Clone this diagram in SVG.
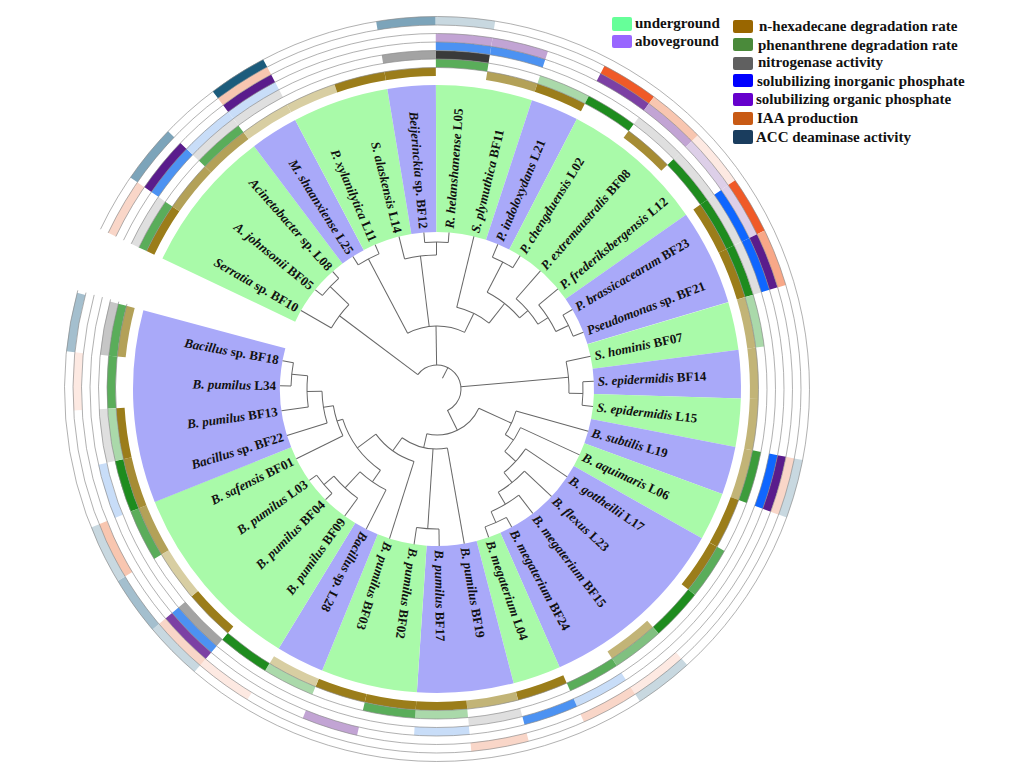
<svg xmlns="http://www.w3.org/2000/svg" width="1024" height="765" viewBox="0 0 1024 765">
<style>
text{font-family:"Liberation Serif","Times New Roman",serif;font-weight:bold;fill:#111}
.lab{font-size:13px}
.it{font-style:italic}
.leg{font-size:15px}
.tree line,.tree circle{stroke:#666;stroke-width:1;fill:none}
.band{fill:none;stroke-width:147}
.bg{stroke:#A9FAA9}.bp{stroke:#A9A9F9}
.c{fill:none;stroke-width:8.6}
.x1{stroke-dasharray:50.94 3000}.x2{stroke-dasharray:52.31 3000}.x3{stroke-dasharray:53.67 3000}.x4{stroke-dasharray:55.04 3000}.x5{stroke-dasharray:56.40 3000}.x6{stroke-dasharray:57.77 3000}.x7{stroke-dasharray:59.13 3000}
.b3{stroke:#9B7D1A}.b25{stroke:#A68C34}.b2{stroke:#B3A158}.b15{stroke:#C2B477}.b1{stroke:#D8CEA2}
.g3{stroke:#1E8C1E}.g25{stroke:#3C9C3C}.g2{stroke:#5AAD5A}.g15{stroke:#80C080}.g1{stroke:#AAD9AA}
.n3{stroke:#3A3A3A}.n2{stroke:#A3A3A3}.n15{stroke:#C6C6C6}.n1{stroke:#DFDFDF}
.i3{stroke:#0F66FF}.i2{stroke:#4C92F2}.i1{stroke:#C8DDF8}
.o3{stroke:#5A1C8C}.o2{stroke:#7C40A4}.o1{stroke:#C2A4D4}.o05{stroke:#DDCFE8}
.a3{stroke:#F05A28}.a2{stroke:#F8A888}.a15{stroke:#F8C6B0}.a1{stroke:#F9D6C8}.a05{stroke:#FDE9E2}
.d3{stroke:#1C5C7C}.d2{stroke:#7CA4BA}.d15{stroke:#A4BFCE}.d1{stroke:#C8D8E0}
.sep circle{fill:none;stroke:#8A8A8A;stroke-width:0.6}
</style>
<rect width="1024" height="765" fill="#fff"/>
<g transform="translate(437,389)">
<g id="bands">
<circle r="230.5" class="band bg" stroke-dasharray="111.03 3000" transform="rotate(205.4)"/>
<circle r="230.5" class="band bp" stroke-dasharray="37.01 3000" transform="rotate(233)"/>
<circle r="230.5" class="band bg" stroke-dasharray="74.02 3000" transform="rotate(242.2)"/>
<circle r="230.5" class="band bp" stroke-dasharray="37.01 3000" transform="rotate(260.6)"/>
<circle r="230.5" class="band bg" stroke-dasharray="74.02 3000" transform="rotate(269.8)"/>
<circle r="230.5" class="band bp" stroke-dasharray="37.01 3000" transform="rotate(288.2)"/>
<circle r="230.5" class="band bg" stroke-dasharray="111.03 3000" transform="rotate(297.4)"/>
<circle r="230.5" class="band bp" stroke-dasharray="74.02 3000" transform="rotate(325)"/>
<circle r="230.5" class="band bg" stroke-dasharray="37.01 3000" transform="rotate(343.4)"/>
<circle r="230.5" class="band bp" stroke-dasharray="37.01 3000" transform="rotate(352.6)"/>
<circle r="230.5" class="band bg" stroke-dasharray="37.01 3000" transform="rotate(361.8)"/>
<circle r="230.5" class="band bp" stroke-dasharray="37.01 3000" transform="rotate(371)"/>
<circle r="230.5" class="band bg" stroke-dasharray="37.01 3000" transform="rotate(380.2)"/>
<circle r="230.5" class="band bp" stroke-dasharray="148.04 3000" transform="rotate(389.4)"/>
<circle r="230.5" class="band bg" stroke-dasharray="37.01 3000" transform="rotate(426.2)"/>
<circle r="230.5" class="band bp" stroke-dasharray="74.02 3000" transform="rotate(435.4)"/>
<circle r="230.5" class="band bg" stroke-dasharray="74.02 3000" transform="rotate(453.8)"/>
<circle r="230.5" class="band bp" stroke-dasharray="37.01 3000" transform="rotate(472.2)"/>
<circle r="230.5" class="band bg" stroke-dasharray="148.04 3000" transform="rotate(481.4)"/>
<circle r="230.5" class="band bp" stroke-dasharray="148.04 3000" transform="rotate(518.2)"/>
</g>
<g id="ring1">
<circle r="317.25" class="c x1 b3" transform="rotate(205.4)"/>
<circle r="317.25" class="c x1 b2" transform="rotate(214.6)"/>
<circle r="317.25" class="c x1 b2" transform="rotate(223.8)"/>
<circle r="317.25" class="c x1 b1" transform="rotate(233)"/>
<circle r="317.25" class="c x1 b1" transform="rotate(242.2)"/>
<circle r="317.25" class="c x1 b3" transform="rotate(251.4)"/>
<circle r="317.25" class="c x1 b3" transform="rotate(260.6)"/>
<circle r="317.25" class="c x1 b2" transform="rotate(279)"/>
<circle r="317.25" class="c x1 b3" transform="rotate(288.2)"/>
<circle r="317.25" class="c x1 b25" transform="rotate(306.6)"/>
<circle r="317.25" class="c x1 b3" transform="rotate(325)"/>
<circle r="317.25" class="c x1 b3" transform="rotate(334.2)"/>
<circle r="317.25" class="c x1 b15" transform="rotate(343.4)"/>
<circle r="317.25" class="c x1 b15" transform="rotate(352.6)"/>
<circle r="317.25" class="c x1 b15" transform="rotate(361.8)"/>
<circle r="317.25" class="c x1 b15" transform="rotate(371)"/>
<circle r="317.25" class="c x1 b3" transform="rotate(380.2)"/>
<circle r="317.25" class="c x1 b3" transform="rotate(389.4)"/>
<circle r="317.25" class="c x1 b15" transform="rotate(407.8)"/>
<circle r="317.25" class="c x1 b3" transform="rotate(426.2)"/>
<circle r="317.25" class="c x1 b15" transform="rotate(435.4)"/>
<circle r="317.25" class="c x1 b3" transform="rotate(444.6)"/>
<circle r="317.25" class="c x1 b3" transform="rotate(453.8)"/>
<circle r="317.25" class="c x1 b3" transform="rotate(463)"/>
<circle r="317.25" class="c x1 b1" transform="rotate(472.2)"/>
<circle r="317.25" class="c x1 b3" transform="rotate(490.6)"/>
<circle r="317.25" class="c x1 b1" transform="rotate(499.8)"/>
<circle r="317.25" class="c x1 b2" transform="rotate(509)"/>
<circle r="317.25" class="c x1 b25" transform="rotate(518.2)"/>
<circle r="317.25" class="c x1 b3" transform="rotate(527.4)"/>
<circle r="317.25" class="c x1 b2" transform="rotate(545.8)"/>
</g>
<g id="ring2">
<circle r="325.75" class="c x2 g2" transform="rotate(205.4)"/>
<circle r="325.75" class="c x2 g2" transform="rotate(223.8)"/>
<circle r="325.75" class="c x2 g2" transform="rotate(269.8)"/>
<circle r="325.75" class="c x2 g1" transform="rotate(288.2)"/>
<circle r="325.75" class="c x2 g3" transform="rotate(297.4)"/>
<circle r="325.75" class="c x2 g3" transform="rotate(315.8)"/>
<circle r="325.75" class="c x2 g3" transform="rotate(325)"/>
<circle r="325.75" class="c x2 g3" transform="rotate(334.2)"/>
<circle r="325.75" class="c x2 g1" transform="rotate(343.4)"/>
<circle r="325.75" class="c x2 g25" transform="rotate(371)"/>
<circle r="325.75" class="c x2 g2" transform="rotate(389.4)"/>
<circle r="325.75" class="c x2 g3" transform="rotate(398.6)"/>
<circle r="325.75" class="c x2 g15" transform="rotate(407.8)"/>
<circle r="325.75" class="c x2 g2" transform="rotate(417)"/>
<circle r="325.75" class="c x2 g1" transform="rotate(444.6)"/>
<circle r="325.75" class="c x2 g2" transform="rotate(453.8)"/>
<circle r="325.75" class="c x2 g1" transform="rotate(472.2)"/>
<circle r="325.75" class="c x2 g3" transform="rotate(481.4)"/>
<circle r="325.75" class="c x2 g2" transform="rotate(509)"/>
<circle r="325.75" class="c x2 g3" transform="rotate(518.2)"/>
<circle r="325.75" class="c x2 g1" transform="rotate(527.4)"/>
<circle r="325.75" class="c x2 g2" transform="rotate(536.6)"/>
<circle r="325.75" class="c x2 g2" transform="rotate(545.8)"/>
</g>
<g id="ring3">
<circle r="334.25" class="c x3 n1" transform="rotate(205.4)"/>
<circle r="334.25" class="c x3 n1" transform="rotate(223.8)"/>
<circle r="334.25" class="c x3 n1" transform="rotate(233)"/>
<circle r="334.25" class="c x3 n2" transform="rotate(260.6)"/>
<circle r="334.25" class="c x3 n3" transform="rotate(269.8)"/>
<circle r="334.25" class="c x3 n1" transform="rotate(306.6)"/>
<circle r="334.25" class="c x3 n1" transform="rotate(315.8)"/>
<circle r="334.25" class="c x3 n1" transform="rotate(325)"/>
<circle r="334.25" class="c x3 n1" transform="rotate(334.2)"/>
<circle r="334.25" class="c x3 n1" transform="rotate(435.4)"/>
<circle r="334.25" class="c x3 n2" transform="rotate(490.6)"/>
<circle r="334.25" class="c x3 n1" transform="rotate(527.4)"/>
<circle r="334.25" class="c x3 n15" transform="rotate(545.8)"/>
</g>
<g id="ring4">
<circle r="342.75" class="c x4 i2" transform="rotate(214.6)"/>
<circle r="342.75" class="c x4 i1" transform="rotate(223.8)"/>
<circle r="342.75" class="c x4 i1" transform="rotate(233)"/>
<circle r="342.75" class="c x4 i2" transform="rotate(269.8)"/>
<circle r="342.75" class="c x4 i2" transform="rotate(279)"/>
<circle r="342.75" class="c x4 i3" transform="rotate(325)"/>
<circle r="342.75" class="c x4 i3" transform="rotate(334.2)"/>
<circle r="342.75" class="c x4 i3" transform="rotate(371)"/>
<circle r="342.75" class="c x4 i1" transform="rotate(417)"/>
<circle r="342.75" class="c x4 i2" transform="rotate(426.2)"/>
<circle r="342.75" class="c x4 i1" transform="rotate(444.6)"/>
<circle r="342.75" class="c x4 i2" transform="rotate(490.6)"/>
<circle r="342.75" class="c x4 i1" transform="rotate(518.2)"/>
</g>
<g id="ring5">
<circle r="351.25" class="c x5 o3" transform="rotate(214.6)"/>
<circle r="351.25" class="c x5 o3" transform="rotate(233)"/>
<circle r="351.25" class="c x5 o1" transform="rotate(269.8)"/>
<circle r="351.25" class="c x5 o1" transform="rotate(279)"/>
<circle r="351.25" class="c x5 o2" transform="rotate(297.4)"/>
<circle r="351.25" class="c x5 o1" transform="rotate(306.6)"/>
<circle r="351.25" class="c x5 o05" transform="rotate(315.8)"/>
<circle r="351.25" class="c x5 o05" transform="rotate(325)"/>
<circle r="351.25" class="c x5 o3" transform="rotate(334.2)"/>
<circle r="351.25" class="c x5 o3" transform="rotate(371)"/>
<circle r="351.25" class="c x5 o1" transform="rotate(463)"/>
<circle r="351.25" class="c x5 o2" transform="rotate(490.6)"/>
</g>
<g id="ring6">
<circle r="359.75" class="c x6 a1" transform="rotate(205.4)"/>
<circle r="359.75" class="c x6 a15" transform="rotate(233)"/>
<circle r="359.75" class="c x6 a3" transform="rotate(297.4)"/>
<circle r="359.75" class="c x6 a15" transform="rotate(306.6)"/>
<circle r="359.75" class="c x6 a05" transform="rotate(315.8)"/>
<circle r="359.75" class="c x6 a3" transform="rotate(325)"/>
<circle r="359.75" class="c x6 a2" transform="rotate(334.2)"/>
<circle r="359.75" class="c x6 a1" transform="rotate(371)"/>
<circle r="359.75" class="c x6 a05" transform="rotate(407.8)"/>
<circle r="359.75" class="c x6 a1" transform="rotate(417)"/>
<circle r="359.75" class="c x6 a1" transform="rotate(435.4)"/>
<circle r="359.75" class="c x6 a05" transform="rotate(481.4)"/>
<circle r="359.75" class="c x6 a1" transform="rotate(490.6)"/>
<circle r="359.75" class="c x6 a15" transform="rotate(509)"/>
<circle r="359.75" class="c x6 a05" transform="rotate(536.6)"/>
</g>
<g id="ring7">
<circle r="368.25" class="c x7 d2" transform="rotate(214.6)"/>
<circle r="368.25" class="c x7 d3" transform="rotate(233)"/>
<circle r="368.25" class="c x7 d2" transform="rotate(260.6)"/>
<circle r="368.25" class="c x7 d1" transform="rotate(269.8)"/>
<circle r="368.25" class="c x7 d1" transform="rotate(371)"/>
<circle r="368.25" class="c x7 d1" transform="rotate(407.8)"/>
<circle r="368.25" class="c x7 d1" transform="rotate(490.6)"/>
<circle r="368.25" class="c x7 d15" transform="rotate(499.8)"/>
<circle r="368.25" class="c x7 d1" transform="rotate(509)"/>
<circle r="368.25" class="c x7 d15" transform="rotate(545.8)"/>
</g>
<g class="sep" transform="rotate(205.4)">
<circle r="321.5" stroke-dasharray="1962.8 3000"/>
<circle r="330" stroke-dasharray="2014.7 3000"/>
<circle r="338.5" stroke-dasharray="2066.6 3000"/>
<circle r="347" stroke-dasharray="2118.5 3000"/>
<circle r="355.5" stroke-dasharray="2170.4 3000"/>
<circle r="364" stroke-dasharray="2222.3 3000"/>
<circle r="372.5" stroke-dasharray="2274.2 3000"/>
</g>
<g id="tree" class="tree">
<line x1="122" x2="157" transform="rotate(210)"/>
<line x1="148" x2="157" transform="rotate(219.2)"/>
<line x1="148" x2="157" transform="rotate(228.4)"/>
<line x1="147" x2="157" transform="rotate(237.6)"/>
<line x1="147" x2="157" transform="rotate(246.8)"/>
<line x1="134" x2="157" transform="rotate(256)"/>
<line x1="147" x2="157" transform="rotate(265.2)"/>
<line x1="147" x2="157" transform="rotate(274.4)"/>
<line x1="84" x2="157" transform="rotate(283.6)"/>
<line x1="143" x2="157" transform="rotate(292.8)"/>
<line x1="143" x2="157" transform="rotate(302)"/>
<line x1="120" x2="157" transform="rotate(311.2)"/>
<line x1="132" x2="157" transform="rotate(320.4)"/>
<line x1="146" x2="157" transform="rotate(329.6)"/>
<line x1="146" x2="157" transform="rotate(338.8)"/>
<line x1="132" x2="157" transform="rotate(348)"/>
<line x1="146" x2="157" transform="rotate(357.2)"/>
<line x1="146" x2="157" transform="rotate(6.4)"/>
<line x1="82" x2="157" transform="rotate(15.6)"/>
<line x1="92" x2="157" transform="rotate(24.8)"/>
<line x1="107" x2="157" transform="rotate(34)"/>
<line x1="120" x2="157" transform="rotate(43.2)"/>
<line x1="134" x2="157" transform="rotate(52.4)"/>
<line x1="146" x2="157" transform="rotate(61.6)"/>
<line x1="146" x2="157" transform="rotate(70.8)"/>
<line x1="60" x2="157" transform="rotate(80)"/>
<line x1="140" x2="157" transform="rotate(89.2)"/>
<line x1="140" x2="157" transform="rotate(98.4)"/>
<line x1="76" x2="157" transform="rotate(107.6)"/>
<line x1="113" x2="157" transform="rotate(116.8)"/>
<line x1="135" x2="157" transform="rotate(126)"/>
<line x1="148" x2="157" transform="rotate(135.2)"/>
<line x1="148" x2="157" transform="rotate(144.4)"/>
<line x1="105" x2="157" transform="rotate(153.6)"/>
<line x1="115" x2="157" transform="rotate(162.8)"/>
<line x1="130" x2="157" transform="rotate(172)"/>
<line x1="146" x2="157" transform="rotate(181.2)"/>
<line x1="146" x2="157" transform="rotate(190.4)"/>
<line x1="122" x2="148" transform="rotate(223.8)"/>
<line x1="24" x2="122" transform="rotate(216.9)"/>
<line x1="63" x2="147" transform="rotate(242.2)"/>
<line x1="134" x2="147" transform="rotate(269.8)"/>
<line x1="63" x2="134" transform="rotate(262.9)"/>
<line x1="109" x2="143" transform="rotate(297.4)"/>
<line x1="132" x2="146" transform="rotate(334.2)"/>
<line x1="120" x2="132" transform="rotate(327.3)"/>
<line x1="109" x2="120" transform="rotate(319.25)"/>
<line x1="84" x2="109" transform="rotate(308.3)"/>
<line x1="63" x2="84" transform="rotate(295.95)"/>
<line x1="24" x2="63" transform="rotate(269.1)"/>
<line x1="132" x2="146" transform="rotate(1.8)"/>
<line x1="24" x2="132" transform="rotate(354.9)"/>
<line x1="134" x2="146" transform="rotate(66.2)"/>
<line x1="120" x2="134" transform="rotate(59.3)"/>
<line x1="107" x2="120" transform="rotate(51.25)"/>
<line x1="92" x2="107" transform="rotate(42.6)"/>
<line x1="82" x2="92" transform="rotate(33.7)"/>
<line x1="46" x2="82" transform="rotate(24.65)"/>
<line x1="130" x2="146" transform="rotate(185.8)"/>
<line x1="115" x2="130" transform="rotate(178.9)"/>
<line x1="105" x2="115" transform="rotate(170.85)"/>
<line x1="99" x2="105" transform="rotate(162.2)"/>
<line x1="135" x2="148" transform="rotate(139.8)"/>
<line x1="113" x2="135" transform="rotate(132.9)"/>
<line x1="99" x2="113" transform="rotate(124.85)"/>
<line x1="76" x2="99" transform="rotate(143.5)"/>
<line x1="60" x2="76" transform="rotate(125.55)"/>
<line x1="60" x2="140" transform="rotate(93.8)"/>
<line x1="46" x2="60" transform="rotate(102.8)"/>
<line x1="24" x2="46" transform="rotate(63.7)"/>
<line x1="12" x2="24" transform="rotate(297)"/>
<circle r="148" stroke-dasharray="23.76 3000" transform="rotate(219.2)"/>
<circle r="122" stroke-dasharray="29.38 3000" transform="rotate(210)"/>
<circle r="147" stroke-dasharray="23.60 3000" transform="rotate(237.6)"/>
<circle r="147" stroke-dasharray="23.60 3000" transform="rotate(265.2)"/>
<circle r="134" stroke-dasharray="32.28 3000" transform="rotate(256)"/>
<circle r="143" stroke-dasharray="22.96 3000" transform="rotate(292.8)"/>
<circle r="146" stroke-dasharray="23.44 3000" transform="rotate(329.6)"/>
<circle r="132" stroke-dasharray="31.79 3000" transform="rotate(320.4)"/>
<circle r="120" stroke-dasharray="33.72 3000" transform="rotate(311.2)"/>
<circle r="109" stroke-dasharray="41.57 3000" transform="rotate(297.4)"/>
<circle r="84" stroke-dasharray="36.21 3000" transform="rotate(283.6)"/>
<circle r="63" stroke-dasharray="59.10 3000" transform="rotate(242.2)"/>
<circle r="146" stroke-dasharray="23.44 3000" transform="rotate(357.2)"/>
<circle r="132" stroke-dasharray="31.79 3000" transform="rotate(348)"/>
<circle r="146" stroke-dasharray="23.44 3000" transform="rotate(61.6)"/>
<circle r="134" stroke-dasharray="32.28 3000" transform="rotate(52.4)"/>
<circle r="120" stroke-dasharray="33.72 3000" transform="rotate(43.2)"/>
<circle r="107" stroke-dasharray="32.21 3000" transform="rotate(34)"/>
<circle r="92" stroke-dasharray="28.58 3000" transform="rotate(24.8)"/>
<circle r="82" stroke-dasharray="25.90 3000" transform="rotate(15.6)"/>
<circle r="146" stroke-dasharray="23.44 3000" transform="rotate(181.2)"/>
<circle r="130" stroke-dasharray="31.31 3000" transform="rotate(172)"/>
<circle r="115" stroke-dasharray="32.32 3000" transform="rotate(162.8)"/>
<circle r="105" stroke-dasharray="31.61 3000" transform="rotate(153.6)"/>
<circle r="148" stroke-dasharray="23.76 3000" transform="rotate(135.2)"/>
<circle r="135" stroke-dasharray="32.52 3000" transform="rotate(126)"/>
<circle r="113" stroke-dasharray="31.75 3000" transform="rotate(116.8)"/>
<circle r="99" stroke-dasharray="64.54 3000" transform="rotate(124.85)"/>
<circle r="76" stroke-dasharray="47.62 3000" transform="rotate(107.6)"/>
<circle r="140" stroke-dasharray="22.48 3000" transform="rotate(89.2)"/>
<circle r="60" stroke-dasharray="47.70 3000" transform="rotate(80)"/>
<circle r="46" stroke-dasharray="62.74 3000" transform="rotate(24.65)"/>
<circle r="24" stroke-dasharray="86.62 3000" transform="rotate(216.9)"/>
</g>
<g id="labels" class="lab">
<g id="leaf01"><text transform="rotate(30)" x="-161" dy="4.5" text-anchor="end"><tspan class="it">Serratia</tspan> sp. BF10</text></g>
<g id="leaf02"><text transform="rotate(39.2)" x="-161" dy="4.5" text-anchor="end"><tspan class="it">A. johnsonii</tspan> BF05</text></g>
<g id="leaf03"><text transform="rotate(48.4)" x="-161" dy="4.5" text-anchor="end"><tspan class="it">Acinetobacter</tspan> sp. L08</text></g>
<g id="leaf04"><text transform="rotate(57.6)" x="-161" dy="4.5" text-anchor="end"><tspan class="it">M. shaanxiense</tspan> L25</text></g>
<g id="leaf05"><text transform="rotate(66.8)" x="-161" dy="4.5" text-anchor="end"><tspan class="it">P. xylanilytica</tspan> L11</text></g>
<g id="leaf06"><text transform="rotate(76)" x="-161" dy="4.5" text-anchor="end"><tspan class="it">S. alaskensis</tspan> L14</text></g>
<g id="leaf07"><text transform="rotate(85.2)" x="-161" dy="4.5" text-anchor="end"><tspan class="it">Beijerinckia</tspan> sp. BF12</text></g>
<g id="leaf08"><text transform="rotate(-85.6)" x="161" dy="4.5"><tspan class="it">R. helanshanense</tspan> L05</text></g>
<g id="leaf09"><text transform="rotate(-76.4)" x="161" dy="4.5"><tspan class="it">S. plymuthica</tspan> BF11</text></g>
<g id="leaf10"><text transform="rotate(-67.2)" x="161" dy="4.5"><tspan class="it">P. indoloxydans</tspan> L21</text></g>
<g id="leaf11"><text transform="rotate(-58)" x="161" dy="4.5"><tspan class="it">P. chengduensis</tspan> L02</text></g>
<g id="leaf12"><text transform="rotate(-48.8)" x="161" dy="4.5"><tspan class="it">P. extremaustralis</tspan> BF08</text></g>
<g id="leaf13"><text transform="rotate(-39.6)" x="161" dy="4.5"><tspan class="it">P. frederiksbergensis</tspan> L12</text></g>
<g id="leaf14"><text transform="rotate(-30.4)" x="161" dy="4.5"><tspan class="it">P. brassicacearum</tspan> BF23</text></g>
<g id="leaf15"><text transform="rotate(-21.2)" x="161" dy="4.5"><tspan class="it">Pseudomonas</tspan> sp. BF21</text></g>
<g id="leaf16"><text transform="rotate(-12)" x="161" dy="4.5"><tspan class="it">S. hominis</tspan> BF07</text></g>
<g id="leaf17"><text transform="rotate(-2.8)" x="161" dy="4.5"><tspan class="it">S. epidermidis</tspan> BF14</text></g>
<g id="leaf18"><text transform="rotate(6.4)" x="161" dy="4.5"><tspan class="it">S. epidermidis</tspan> L15</text></g>
<g id="leaf19"><text transform="rotate(15.6)" x="161" dy="4.5"><tspan class="it">B. subtilis</tspan> L19</text></g>
<g id="leaf20"><text transform="rotate(24.8)" x="161" dy="4.5"><tspan class="it">B. aquimaris</tspan> L06</text></g>
<g id="leaf21"><text transform="rotate(34)" x="161" dy="4.5"><tspan class="it">B. gottheilii</tspan> L17</text></g>
<g id="leaf22"><text transform="rotate(43.2)" x="161" dy="4.5"><tspan class="it">B. flexus</tspan> L23</text></g>
<g id="leaf23"><text transform="rotate(52.4)" x="161" dy="4.5"><tspan class="it">B. megaterium</tspan> BF15</text></g>
<g id="leaf24"><text transform="rotate(61.6)" x="161" dy="4.5"><tspan class="it">B. megaterium</tspan> BF24</text></g>
<g id="leaf25"><text transform="rotate(70.8)" x="161" dy="4.5"><tspan class="it">B. megaterium</tspan> L04</text></g>
<g id="leaf26"><text transform="rotate(80)" x="161" dy="4.5"><tspan class="it">B. pumilus</tspan> BF19</text></g>
<g id="leaf27"><text transform="rotate(89.2)" x="161" dy="4.5"><tspan class="it">B. pumilus</tspan> BF17</text></g>
<g id="leaf28"><text transform="rotate(98.4)" x="161" dy="4.5"><tspan class="it">B. pumilus</tspan> BF02</text></g>
<g id="leaf29"><text transform="rotate(107.6)" x="161" dy="4.5"><tspan class="it">B. pumilus</tspan> BF03</text></g>
<g id="leaf30"><text transform="rotate(116.8)" x="161" dy="4.5"><tspan class="it">Bacillus</tspan> sp. L28</text></g>
<g id="leaf31"><text transform="rotate(-54)" x="-161" dy="4.5" text-anchor="end"><tspan class="it">B. pumilus</tspan> BF09</text></g>
<g id="leaf32"><text transform="rotate(-44.8)" x="-161" dy="4.5" text-anchor="end"><tspan class="it">B. pumilus</tspan> BF04</text></g>
<g id="leaf33"><text transform="rotate(-35.6)" x="-161" dy="4.5" text-anchor="end"><tspan class="it">B. pumilus</tspan> L03</text></g>
<g id="leaf34"><text transform="rotate(-26.4)" x="-161" dy="4.5" text-anchor="end"><tspan class="it">B. safensis</tspan> BF01</text></g>
<g id="leaf35"><text transform="rotate(-17.2)" x="-161" dy="4.5" text-anchor="end"><tspan class="it">Bacillus</tspan> sp. BF22</text></g>
<g id="leaf36"><text transform="rotate(-8)" x="-161" dy="4.5" text-anchor="end"><tspan class="it">B. pumilus</tspan> BF13</text></g>
<g id="leaf37"><text transform="rotate(1.2)" x="-161" dy="4.5" text-anchor="end"><tspan class="it">B. pumilus</tspan> L34</text></g>
<g id="leaf38"><text transform="rotate(10.4)" x="-161" dy="4.5" text-anchor="end"><tspan class="it">Bacillus</tspan> sp. BF18</text></g>
</g>
</g>
<g id="legend" class="leg">
<rect x="612" y="17" width="20" height="14" rx="2" fill="#66FF99"/>
<text x="635" y="28" class="leg">underground</text>
<rect x="612" y="35" width="20" height="13" rx="2" fill="#9966FF"/>
<text x="635" y="46" class="leg">aboveground</text>
<rect x="733" y="20" width="20" height="13" rx="2" fill="#996600"/>
<text x="759" y="31" class="leg">n-hexadecane degradation rate</text>
<rect x="733" y="38" width="20" height="13" rx="2" fill="#4A8A3A"/>
<text x="758" y="50" class="leg">phenanthrene degradation rate</text>
<rect x="733" y="57" width="20" height="13" rx="2" fill="#606060"/>
<text x="758" y="67" class="leg">nitrogenase activity</text>
<rect x="733" y="74" width="20" height="13" rx="2" fill="#0000FF"/>
<text x="757" y="86" class="leg">solubilizing inorganic phosphate</text>
<rect x="733" y="93" width="20" height="13" rx="2" fill="#6600CC"/>
<text x="756" y="104" class="leg">solubilizing organic phosphate</text>
<rect x="733" y="112" width="20" height="13" rx="2" fill="#C85A14"/>
<text x="757" y="123" class="leg">IAA production</text>
<rect x="733" y="130" width="20" height="14" rx="2" fill="#1A3D5E"/>
<text x="756" y="142" class="leg">ACC deaminase activity</text>
</g>
</svg>
